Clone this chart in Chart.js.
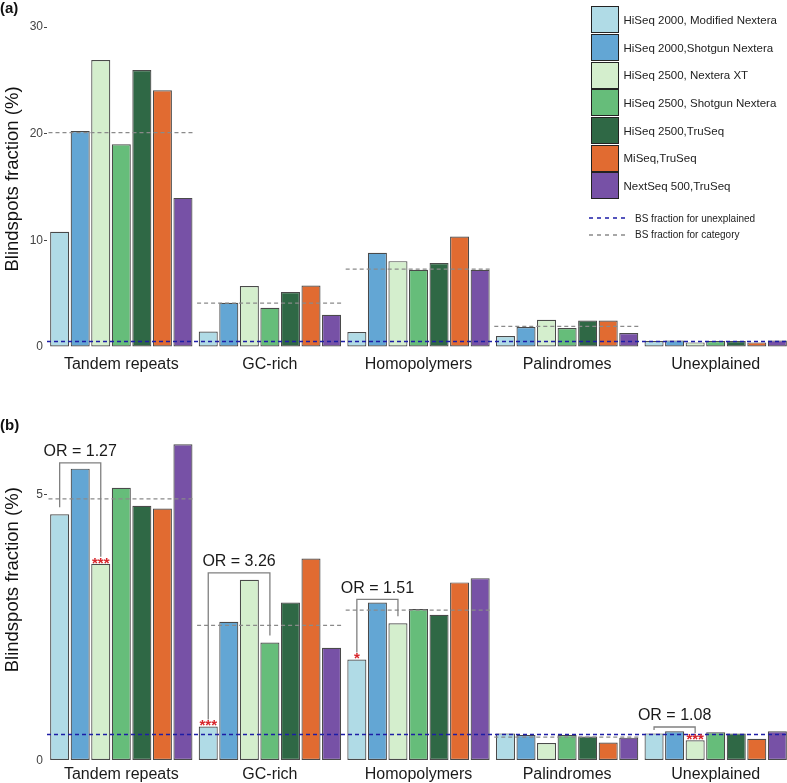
<!DOCTYPE html>
<html>
<head>
<meta charset="utf-8">
<script src="https://cdn.jsdelivr.net/npm/chart.js@4"></script>
<style>
html, body { margin: 0; padding: 0; background: #fff; overflow: hidden; }
body { width: 787px; height: 783px; position: relative; font-family: "Liberation Sans", Arial, sans-serif; color: #222; }
.wrap { position: absolute; left: 0; width: 790px; }
#wrapA { top: 0; height: 380px; }
#wrapB { top: 380px; height: 403px; }
.panel { position: absolute; left: 0; font-weight: bold; font-size: 15px; color: #111; }
#legend { position: absolute; left: 591px; top: 6px; }
.key { height: 27.7px; display: flex; align-items: center; }
.box { width: 27.5px; height: 27px; box-sizing: border-box; border: 1.5px solid #222; margin-right: 5px; }
.keytext { font-size: 11.5px; color: #222; white-space: nowrap; }
.lkey { display: flex; align-items: center; height: 16.6px; margin-left: -2px; }
.lkey span { font-size: 10px; color: #222; margin-left: 6px; white-space: nowrap; }
</style>
</head>
<body>
<div class="wrap" id="wrapA"><canvas id="chartA" width="790" height="380"></canvas></div>
<div class="wrap" id="wrapB"><canvas id="chartB" width="790" height="403"></canvas></div>
<div class="panel" style="top:-1px">(a)</div>
<div class="panel" style="top:416px">(b)</div>
<div id="legend"></div>

<script>
var categories = ["Tandem repeats", "GC-rich", "Homopolymers", "Palindromes", "Unexplained"];
var platforms = ["HiSeq 2000, Modified Nextera", "HiSeq 2000,Shotgun Nextera", "HiSeq 2500, Nextera XT",
    "HiSeq 2500, Shotgun Nextera", "HiSeq 2500,TruSeq", "MiSeq,TruSeq", "NextSeq 500,TruSeq"];
var colors = ["#b0dbe6", "#63a6d4", "#d4eecd", "#66bd7a", "#2f6845", "#e16b31", "#7751a6"];

// (a) one row per platform, values per category
var fractionA = [
    [10.8, 1.46, 1.40, 1.03, 0.56],
    [20.25, 4.15, 8.83, 1.87, 0.62],
    [26.9, 5.71, 8.05, 2.56, 0.43],
    [19.0, 3.68, 7.24, 1.78, 0.56],
    [25.96, 5.15, 7.87, 2.49, 0.56],
    [24.06, 5.77, 10.36, 2.49, 0.43],
    [13.98, 3.02, 7.24, 1.31, 0.62]
];
var categoryLineA = [20.1, 4.12, 7.30, 1.93, null];
var unexplainedLineA = 0.52;
var yTicksA = [0, 10, 20, 30];

// (b)
var fractionB = [
    [4.63, 0.64, 1.90, 0.51, 0.51],
    [5.49, 2.61, 2.97, 0.48, 0.55],
    [3.70, 3.40, 2.58, 0.33, 0.38],
    [5.13, 2.22, 2.85, 0.48, 0.53],
    [4.79, 2.97, 2.74, 0.45, 0.51],
    [4.74, 3.80, 3.35, 0.34, 0.41],
    [5.95, 2.12, 3.43, 0.43, 0.55]
];
var categoryLineB = [4.92, 2.54, 2.83, 0.44, null];
var unexplainedLineB = 0.49;
var yTicksB = [0, 5];

// odds ratio brackets in (b): category, first bar, second bar, bracket height, label
var orCategory = [0, 1, 2, 4];
var orFrom = [0, 0, 0, 0];
var orTo = [2, 3, 2, 2];
var orHeight = [5.60, 3.53, 3.03, 0.63];
var orLabel = ["OR = 1.27", "OR = 3.26", "OR = 1.51", "OR = 1.08"];
// significance stars: category, bar, text
var starCategory = [0, 1, 2, 4];
var starBar = [2, 0, 0, 2];
var starText = ["***", "***", "*", "***"];

var fontFamily = '"Liberation Sans", Arial, sans-serif';
Chart.defaults.font.family = fontFamily;

function makeDatasets(rows) {
    return rows.map(function (row, i) {
        return {
            label: platforms[i],
            data: row,
            backgroundColor: colors[i],
            borderColor: "#4a4a4a",
            borderWidth: 1.2,
            borderSkipped: false,
            categoryPercentage: 0.968,
            barPercentage: 0.927
        };
    });
}

function refLines(catValues, unexplained) {
    return {
        id: "refLines",
        afterDatasetsDraw: function (chart) {
            var ctx = chart.ctx;
            var x = chart.scales.x, y = chart.scales.y;
            var slot = x.getPixelForValue(1) - x.getPixelForValue(0);
            ctx.save();
            ctx.lineWidth = 1.2;
            ctx.strokeStyle = "#8a8a8a";
            ctx.setLineDash([4, 3]);
            catValues.forEach(function (v, i) {
                if (v === null) return;
                var cx = x.getPixelForValue(i);
                var py = y.getPixelForValue(v);
                ctx.beginPath();
                ctx.moveTo(cx - slot * 0.49, py);
                ctx.lineTo(cx + slot * 0.49, py);
                ctx.stroke();
            });
            ctx.strokeStyle = "#1d1da6";
            ctx.lineWidth = 1.6;
            var uy = y.getPixelForValue(unexplained);
            ctx.beginPath();
            ctx.moveTo(chart.chartArea.left, uy);
            ctx.lineTo(chart.chartArea.right, uy);
            ctx.stroke();
            ctx.restore();
        }
    };
}

var orBrackets = {
    id: "orBrackets",
    afterDatasetsDraw: function (chart) {
        var ctx = chart.ctx;
        var y = chart.scales.y;
        ctx.save();
        for (var k = 0; k < orCategory.length; k++) {
            var c = orCategory[k];
            var b0 = chart.getDatasetMeta(orFrom[k]).data[c];
            var b1 = chart.getDatasetMeta(orTo[k]).data[c];
            var top = y.getPixelForValue(orHeight[k]);
            var l0 = Math.max(top + 3, b0.y - 7);
            var l1 = Math.max(top + 3, b1.y - 7);
            ctx.strokeStyle = "#808080";
            ctx.lineWidth = 1.3;
            ctx.setLineDash([]);
            ctx.beginPath();
            ctx.moveTo(b0.x, l0);
            ctx.lineTo(b0.x, top);
            ctx.lineTo(b1.x, top);
            ctx.lineTo(b1.x, l1);
            ctx.stroke();
            ctx.fillStyle = "#1a1a1a";
            ctx.font = "16px " + fontFamily;
            ctx.textAlign = "center";
            ctx.textBaseline = "middle";
            ctx.fillText(orLabel[k], (b0.x + b1.x) / 2, top - 11);
        }
        for (var s = 0; s < starCategory.length; s++) {
            var bar = chart.getDatasetMeta(starBar[s]).data[starCategory[s]];
            ctx.fillStyle = "#d7262b";
            ctx.font = "bold 15px " + fontFamily;
            ctx.textAlign = "center";
            ctx.textBaseline = "alphabetic";
            ctx.fillText(starText[s], bar.x, bar.y + 4);
        }
        ctx.restore();
    }
};

function makeChart(id, rows, yMax, yTicks, padTop, xHeight, labelPad, plugins) {
    return new Chart(document.getElementById(id), {
        type: "bar",
        data: { labels: categories, datasets: makeDatasets(rows) },
        options: {
            responsive: false,
            animation: false,
            devicePixelRatio: 1,
            layout: { padding: { top: padTop, left: 0, right: 0, bottom: 0 } },
            plugins: { legend: { display: false }, tooltip: { enabled: false } },
            scales: {
                x: {
                    grid: { display: false, drawTicks: false },
                    border: { display: false },
                    ticks: { color: "#1a1a1a", font: { size: 16 }, padding: labelPad, maxRotation: 0 },
                    afterFit: function (scale) { scale.height = xHeight; }
                },
                y: {
                    min: 0,
                    max: yMax,
                    grid: {
                        display: true, drawOnChartArea: false, drawTicks: true, tickLength: 3, lineWidth: 1,
                        color: function (c) { return c.tick && c.tick.value === 0 ? "rgba(0,0,0,0)" : "#444"; }
                    },
                    border: { display: false },
                    ticks: { color: "#444", font: { size: 12 }, padding: 1 },
                    afterBuildTicks: function (scale) {
                        scale.ticks = yTicks.map(function (v) { return { value: v }; });
                    },
                    title: {
                        display: true,
                        text: "Blindspots fraction (%)",
                        color: "#111",
                        font: { size: 18.5 },
                        padding: { top: 2, bottom: 0 }
                    },
                    afterFit: function (scale) { scale.width = 47; }
                }
            }
        },
        plugins: plugins
    });
}

var chartA = makeChart("chartA", fractionA, 31.5, yTicksA, 11, 33, 8,
    [refLines(categoryLineA, unexplainedLineA)]);
var chartB = makeChart("chartB", fractionB, 6.8, yTicksB, 19, 22.5, 4,
    [refLines(categoryLineB, unexplainedLineB), orBrackets]);

// legend
var legend = document.getElementById("legend");
platforms.forEach(function (name, i) {
    var row = document.createElement("div");
    row.className = "key";
    row.innerHTML = '<div class="box" style="background:' + colors[i] + '"></div><span class="keytext">' + name + "</span>";
    legend.appendChild(row);
});
var lineKeys = [["#1d1da6", "BS fraction for unexplained"], ["#8a8a8a", "BS fraction for category"]];
var spacer = document.createElement("div");
spacer.style.height = "10px";
legend.appendChild(spacer);
lineKeys.forEach(function (k) {
    var row = document.createElement("div");
    row.className = "lkey";
    row.innerHTML = '<svg width="40" height="6"><line x1="0" y1="3" x2="40" y2="3" stroke="' + k[0] +
        '" stroke-width="1.3" stroke-dasharray="4,4"/></svg><span>' + k[1] + "</span>";
    legend.appendChild(row);
});
</script>
</body>
</html>
